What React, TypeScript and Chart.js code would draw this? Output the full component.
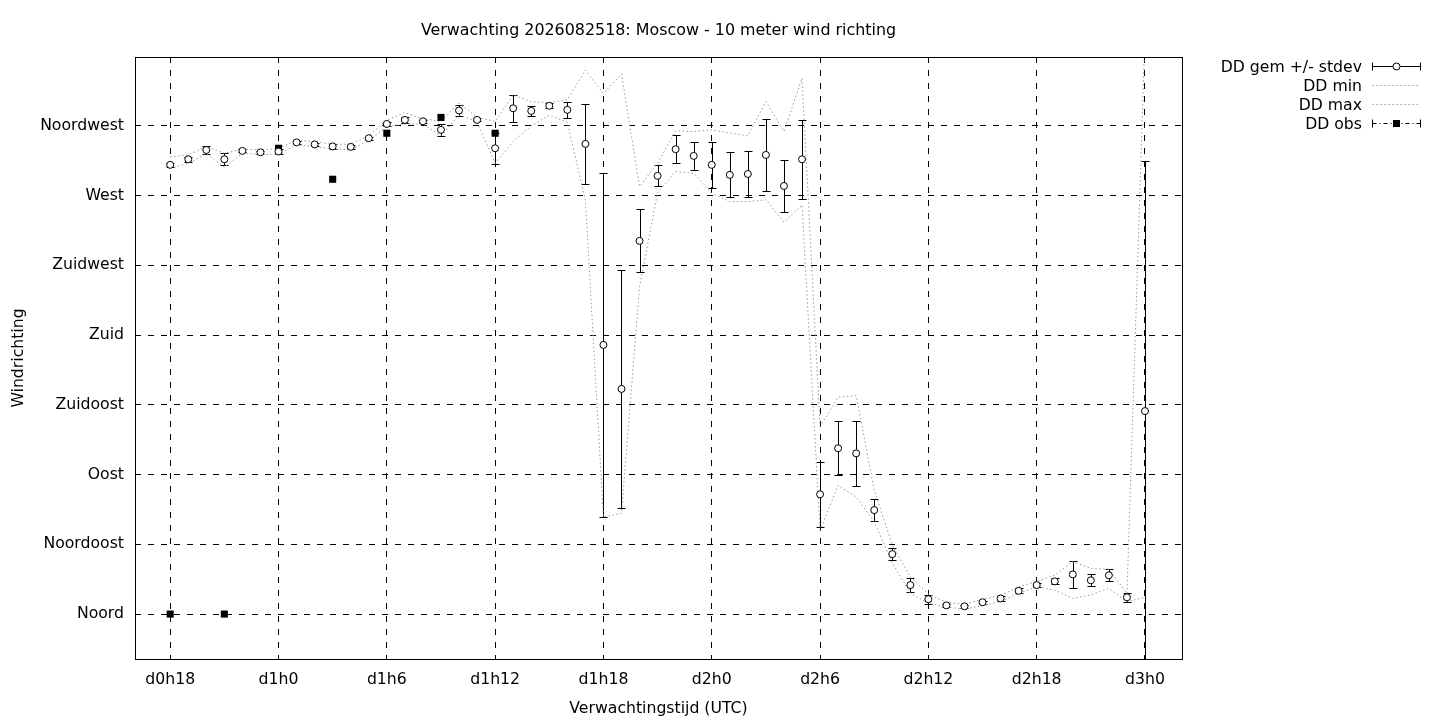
import React, { useEffect, useRef } from "react";
import { Chart, registerables } from "chart.js";

Chart.register(...registerables);

const titleText = "Verwachting 2026082518: Moscow - 10 meter wind richting";
const xTitle = "Verwachtingstijd (UTC)";
const yTitle = "Windrichting";

const hours = [
  18, 19, 20, 21, 22, 23, 24, 25, 26, 27, 28, 29, 30, 31, 32, 33, 34, 35, 36, 37,
  38, 39, 40, 41, 42, 43, 44, 45, 46, 47, 48, 49, 50, 51, 52, 53, 54, 55, 56, 57,
  58, 59, 60, 61, 62, 63, 64, 65, 66, 67, 68, 69, 70, 71, 72,
];

const meanDir = [
  289.9, 293.5, 299.5, 293.5, 298.9, 298.0, 298.5, 304.4, 303.1, 301.8, 301.5, 307.1, 316.3, 318.9, 318.0, 312.5, 325.0, 318.9, 300.6, 326.4,
  324.7, 328.0, 325.4, 303.4, 173.7, 145.3, 240.8, 282.8, 300.0, 295.7, 289.9, 283.4, 284.0, 296.3, 276.3, 293.5, 77.3, 107.0, 103.7, 67.1,
  38.7, 18.7, 9.6, 5.6, 5.0, 7.6, 10.1, 15.0, 18.7, 21.1, 25.6, 21.8, 25.0, 10.8, 131.0,
];

const stdDir = [
  1.5, 1.5, 2.4, 4.0, 1.0, 1.0, 1.5, 1.0, 1.0, 1.5, 1.5, 1.0, 1.5, 2.0, 1.0, 4.0, 3.7, 1.0, 10.0, 8.6,
  3.2, 1.6, 5.0, 25.8, 111.0, 77.0, 20.3, 6.7, 9.0, 9.0, 14.8, 14.5, 15.0, 23.3, 16.6, 25.5, 21.0, 17.4, 21.0, 7.0,
  4.0, 4.6, 2.8, 1.0, 0.8, 0.8, 1.5, 1.5, 1.5, 2.0, 8.6, 3.8, 3.8, 3.1, 161.5,
];

const minDir = [
  287.7, 290.9, 297.0, 288.4, 297.4, 296.7, 296.7, 302.8, 301.7, 300.2, 299.6, 305.6, 314.6, 316.3, 316.3, 308.6, 322.1, 317.8, 290.9, 305.0,
  315.0, 322.0, 317.5, 267.0, 62.6, 65.0, 211.0, 272.0, 285.6, 284.5, 271.6, 266.2, 266.2, 267.3, 253.0, 264.0, 54.0, 83.0, 75.5, 59.6,
  33.0, 13.5, 7.0, 4.5, 3.2, 5.5, 8.0, 13.3, 17.6, 15.5, 10.1, 12.3, 16.6, 8.0, 10.8,
];

const maxDir = [
  295.0, 296.3, 301.7, 297.4, 300.0, 299.6, 300.4, 306.0, 304.8, 303.2, 303.2, 308.6, 318.9, 323.6, 319.6, 318.0, 329.7, 320.5, 318.0, 335.0,
  330.7, 330.0, 331.9, 351.0, 336.0, 348.6, 275.9, 291.0, 311.8, 311.4, 312.5, 310.4, 308.6, 330.7, 311.4, 345.8, 121.0, 140.0, 141.0, 80.0,
  44.5, 24.0, 13.0, 7.5, 6.5, 9.5, 12.0, 17.6, 21.0, 25.2, 33.8, 29.5, 28.9, 13.3, 375.0,
];

const obsHours = [18, 21, 24, 27, 30, 33, 36];
const obsDir = [0, 0, 300.6, 280.6, 310.3, 320.5, 310.3];

const xTicks = [18, 24, 30, 36, 42, 48, 54, 60, 66, 72];
const yTicks = [0, 45, 90, 135, 180, 225, 270, 315];
const yTickLabels = ["Noord", "Noordoost", "Oost", "Zuidoost", "Zuid", "Zuidwest", "West", "Noordwest"];

const seriesLabels = ["DD gem +/- stdev", "DD min", "DD max", "DD obs"];

const FONT = "DejaVu Sans";
const FS = 15.7;
const FS_TITLE = 15.9;

const errorBarPlugin = {
  id: "errorBars",
  beforeDatasetsDraw(chart: any) {
    const { ctx, chartArea, scales } = chart;
    const x = scales.x;
    const y = scales.y;
    ctx.save();
    ctx.beginPath();
    ctx.rect(chartArea.left, chartArea.top, chartArea.right - chartArea.left, chartArea.bottom - chartArea.top);
    ctx.clip();
    ctx.strokeStyle = "#000";
    ctx.lineWidth = 1;
    hours.forEach((h, i) => {
      const px = Math.round(x.getPixelForValue(h)) + 0.5;
      const yLo = Math.round(y.getPixelForValue(meanDir[i] - stdDir[i])) + 0.5;
      const yHi = Math.round(y.getPixelForValue(meanDir[i] + stdDir[i])) + 0.5;
      ctx.beginPath();
      ctx.moveTo(px, yLo);
      ctx.lineTo(px, yHi);
      ctx.moveTo(px - 4, yLo);
      ctx.lineTo(px + 4, yLo);
      ctx.moveTo(px - 4, yHi);
      ctx.lineTo(px + 4, yHi);
      ctx.stroke();
    });
    ctx.restore();
  },
};

const decorPlugin = {
  id: "decor",
  afterDraw(chart: any) {
    const { ctx, chartArea } = chart;
    const l = Math.round(chartArea.left) + 0.5;
    const t = Math.round(chartArea.top) + 0.5;
    const r = Math.round(chartArea.right) + 0.5;
    const b = Math.round(chartArea.bottom) + 0.5;
    ctx.save();
    ctx.strokeStyle = "#000";
    ctx.lineWidth = 1;
    ctx.setLineDash([]);
    ctx.strokeRect(l, t, r - l, b - t);

    ctx.fillStyle = "#000";
    ctx.textBaseline = "middle";
    ctx.textAlign = "center";
    const cx = (chartArea.left + chartArea.right) / 2;
    ctx.font = `${FS_TITLE}px "${FONT}"`;
    ctx.fillText(titleText, cx, 31);
    ctx.font = `${FS}px "${FONT}"`;
    ctx.fillText(xTitle, cx, 709);
    ctx.save();
    ctx.translate(19, (chartArea.top + chartArea.bottom) / 2);
    ctx.rotate(-Math.PI / 2);
    ctx.fillText(yTitle, 0, 0);
    ctx.restore();

    // legend
    const rowsY = [66, 85, 104, 123];
    const tx = 1362;
    const sx1 = 1372.5;
    const sx2 = 1420.5;
    const mid = (sx1 + sx2) / 2;
    ctx.textAlign = "right";
    seriesLabels.forEach((lab, i) => {
      ctx.fillText(lab, tx, rowsY[i] + 2);
    });
    // row 0: mean +/- stdev
    let yy = rowsY[0] + 0.5;
    ctx.beginPath();
    ctx.moveTo(sx1, yy);
    ctx.lineTo(sx2, yy);
    ctx.moveTo(sx1, yy - 4);
    ctx.lineTo(sx1, yy + 4);
    ctx.moveTo(sx2, yy - 4);
    ctx.lineTo(sx2, yy + 4);
    ctx.stroke();
    ctx.beginPath();
    ctx.arc(mid, yy, 3.5, 0, Math.PI * 2);
    ctx.fillStyle = "#fff";
    ctx.fill();
    ctx.stroke();
    // rows 1,2: dotted
    ctx.strokeStyle = "#999";
    ctx.setLineDash([1.5, 2.5]);
    [1, 2].forEach((k) => {
      const yk = rowsY[k] + 0.5;
      ctx.beginPath();
      ctx.moveTo(sx1, yk);
      ctx.lineTo(sx2, yk);
      ctx.stroke();
    });
    // row 3: obs
    yy = rowsY[3] + 0.5;
    ctx.strokeStyle = "#000";
    ctx.setLineDash([4, 3, 1, 3]);
    ctx.beginPath();
    ctx.moveTo(sx1, yy);
    ctx.lineTo(sx2, yy);
    ctx.stroke();
    ctx.setLineDash([]);
    ctx.beginPath();
    ctx.moveTo(sx1, yy - 4);
    ctx.lineTo(sx1, yy + 4);
    ctx.moveTo(sx2, yy - 4);
    ctx.lineTo(sx2, yy + 4);
    ctx.stroke();
    ctx.fillStyle = "#000";
    ctx.fillRect(mid - 3.5, yy - 3.5, 7, 7);
    ctx.restore();
  },
};

export default function App() {
  const canvasRef = useRef<HTMLCanvasElement | null>(null);

  useEffect(() => {
    if (!canvasRef.current) return;
    const chart = new Chart(canvasRef.current, {
      type: "line",
      data: {
        datasets: [
          {
            label: seriesLabels[0],
            data: hours.map((h, i) => ({ x: h, y: meanDir[i] })),
            showLine: false,
            pointStyle: "circle",
            pointRadius: 3.5,
            pointBorderWidth: 1,
            pointBackgroundColor: "#fff",
            pointBorderColor: "#000",
          },
          {
            label: seriesLabels[3],
            data: obsHours.map((h, i) => ({ x: h, y: obsDir[i] })),
            showLine: false,
            pointStyle: "rect",
            pointRadius: 5,
            pointBorderWidth: 0,
            pointBackgroundColor: "#000",
            pointBorderColor: "#000",
          },
          {
            label: seriesLabels[1],
            data: hours.map((h, i) => ({ x: h, y: minDir[i] })),
            borderColor: "#999",
            borderWidth: 1,
            borderDash: [1.5, 2.5],
            pointRadius: 0,
            tension: 0,
            fill: false,
          },
          {
            label: seriesLabels[2],
            data: hours.map((h, i) => ({ x: h, y: maxDir[i] })),
            borderColor: "#999",
            borderWidth: 1,
            borderDash: [1.5, 2.5],
            pointRadius: 0,
            tension: 0,
            fill: false,
          },
        ],
      },
      options: {
        animation: false,
        responsive: false,
        devicePixelRatio: 1,
        events: [],
        layout: { padding: { top: 57, right: 258, left: 0, bottom: 0 } },
        plugins: { legend: { display: false }, title: { display: false }, tooltip: { enabled: false } },
        scales: {
          x: {
            type: "linear",
            min: 16.05,
            max: 74.05,
            afterFit: (s: any) => {
              s.height = 61;
            },
            afterBuildTicks: (s: any) => {
              s.ticks = xTicks.map((v) => ({ value: v }));
            },
            ticks: {
              padding: 12,
              color: "#000",
              font: { family: FONT, size: FS },
              maxRotation: 0,
              autoSkip: false,
              callback: (v: any) => `d${Math.floor(Number(v) / 24)}h${Number(v) % 24}`,
            },
            grid: { color: "#000", lineWidth: 1, drawTicks: false },
            border: { display: false, dash: [6, 7] },
          },
          y: {
            type: "linear",
            min: -29,
            max: 359.5,
            afterFit: (s: any) => {
              s.width = 135;
            },
            afterBuildTicks: (s: any) => {
              s.ticks = yTicks.map((v) => ({ value: v }));
            },
            ticks: {
              padding: 11,
              color: "#000",
              font: { family: FONT, size: FS },
              autoSkip: false,
              callback: (v: any) => {
                const idx = yTicks.indexOf(Number(v));
                return idx >= 0 ? yTickLabels[idx] : "";
              },
            },
            grid: { color: "#000", lineWidth: 1, drawTicks: false },
            border: { display: false, dash: [6, 7] },
          },
        },
      },
      plugins: [errorBarPlugin, decorPlugin],
    });
    return () => chart.destroy();
  }, []);

  return (
    <div style={{ position: "absolute", left: 0, top: 0, width: 1440, height: 720, background: "#fff" }}>
      <canvas ref={canvasRef} width={1440} height={720} />
    </div>
  );
}
